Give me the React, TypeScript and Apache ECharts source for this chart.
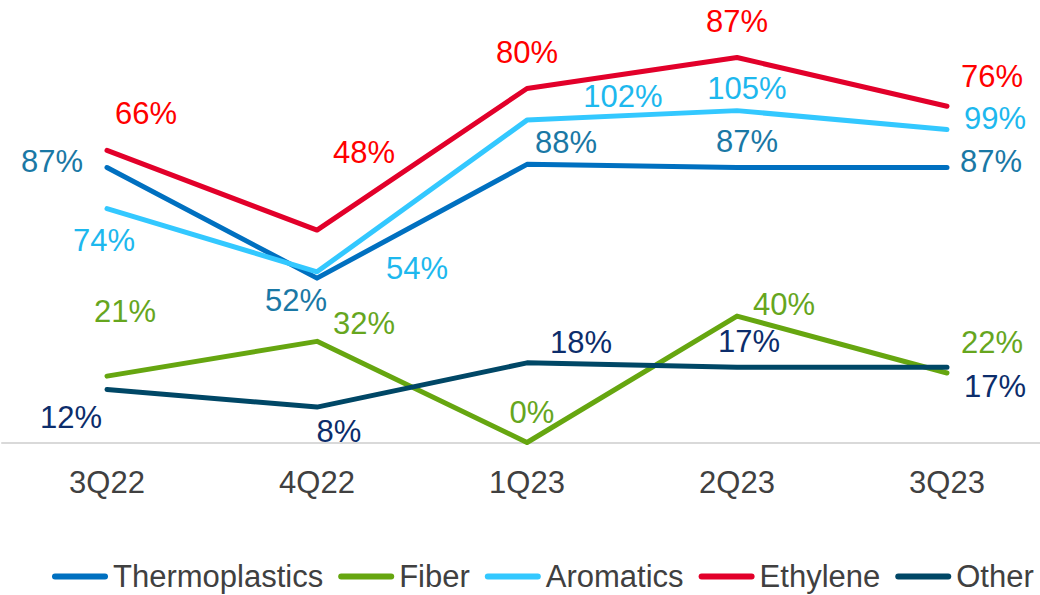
import React, { useEffect, useRef } from "react";
import * as echarts from "echarts";

const categories = ["3Q22", "4Q22", "1Q23", "2Q23", "3Q23"];
const thermoplastics = [87, 52, 88, 87, 87];
const fiber = [21, 32, 0, 40, 22];
const aromatics = [74, 54, 102, 105, 99];
const ethylene = [66, 48, 80, 87, 76];
const other = [12, 8, 18, 17, 17];

// label offsets (pixels from the point)
const thermoOffsets = [[-55, -6], [-21, 22], [39, -22], [10, -26], [44, -6]];
const fiberOffsets = [[18, -65], [47, -18], [5, -30], [47, -12], [45, -30]];
const aromOffsets = [[-3, 32], [100, -3], [96, -24], [10, -22], [48, -11]];
const ethyOffsets = [[39, -37], [47, -78], [0, -36], [0, -36], [45, -30]];
const otherOffsets = [[-36, 28], [22, 24], [54, -20], [12, -26], [48, 19]];

const FONT = "'Liberation Sans', Arial, sans-serif";

function makeSeries(
  name: string,
  values: number[],
  offsets: number[][],
  lineColor: string,
  labelColor: string,
  yAxisIndex: number
) {
  return {
    name,
    type: "line",
    yAxisIndex,
    symbol: "circle",
    symbolSize: 2,
    showSymbol: true,
    itemStyle: { color: lineColor },
    lineStyle: { color: lineColor, width: 5, cap: "round", join: "round" },
    emphasis: { disabled: true },
    label: {
      show: true,
      position: "inside",
      color: labelColor,
      fontSize: 31,
      fontFamily: FONT,
      formatter: "{c}%",
    },
    data: values.map((v, i) => ({
      value: v,
      label: { offset: offsets[i] },
    })),
  };
}

const legendIcon =
  "path://M3,0 H53 A3,3 0 0 1 53,6 H3 A3,3 0 0 1 3,0 Z";

export default function App() {
  const ref = useRef<HTMLDivElement>(null);
  useEffect(() => {
    if (!ref.current) return;
    const chart = echarts.init(ref.current, undefined, { renderer: "svg" });
    chart.setOption({
      animation: false,
      backgroundColor: "#ffffff",
      grid: {
        left: 2,
        top: 0,
        right: -12,
        bottom: 152.5,
        containLabel: false,
        outerBoundsMode: "none",
      },
      xAxis: {
        type: "category",
        data: categories,
        boundaryGap: true,
        axisLine: { show: true, lineStyle: { color: "#D9D9D9", width: 2 } },
        axisTick: { show: false },
        axisLabel: {
          color: "#404040",
          fontSize: 31,
          fontFamily: FONT,
          margin: 24,
        },
        splitLine: { show: false },
      },
      yAxis: [
        { type: "value", min: 0, max: 140, show: false, splitLine: { show: false } },
        { type: "value", min: 0, max: 100, show: false, splitLine: { show: false } },
      ],
      legend: {
        left: 52,
        top: 561,
        padding: 0,
        icon: legendIcon,
        itemWidth: 56,
        itemHeight: 6,
        itemGap: 15,
        textStyle: { color: "#404040", fontSize: 31, fontFamily: FONT },
        data: ["Thermoplastics", "Fiber", "Aromatics", "Ethylene", "Other"],
      },
      series: [
        makeSeries("Thermoplastics", thermoplastics, thermoOffsets, "#0070C0", "#1A78A5", 0),
        makeSeries("Fiber", fiber, fiberOffsets, "#66A610", "#66A61E", 0),
        makeSeries("Aromatics", aromatics, aromOffsets, "#33C8FF", "#1DB8EE", 0),
        makeSeries("Ethylene", ethylene, ethyOffsets, "#E2002A", "#FF0000", 1),
        makeSeries("Other", other, otherOffsets, "#004766", "#0C2D6B", 1),
      ],
    });
    return () => chart.dispose();
  }, []);
  return (
    <div
      ref={ref}
      style={{ position: "fixed", left: 0, top: 0, width: 1040, height: 595, background: "#fff" }}
    />
  );
}
